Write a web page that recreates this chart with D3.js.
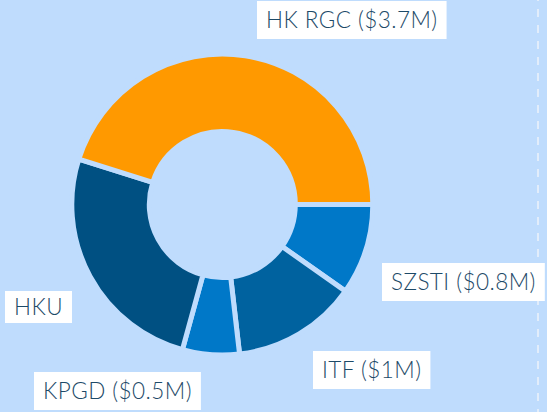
<!DOCTYPE html>
<html>
<head>
<meta charset="utf-8">
<script src="https://cdn.jsdelivr.net/npm/d3@7"></script>
<style>
  html, body { margin: 0; padding: 0; background: #bfdcfd; overflow: hidden; }
</style>
</head>
<body>
<div id="vizcontainer"></div>
<script>
const
  width = 547,
  height = 412,
  bg = '#bfdcfd',
  textColor = '#1d4a68'
  ;

// slices, clockwise from 3 o'clock
const funders = ['SZSTI', 'ITF', 'KPGD', 'HKU', 'HK RGC'];
const amounts = [0.8, 1.1, 0.5, 2.1, 3.7]; // $M
const labels = ['SZSTI ($0.8M)', 'ITF ($1M)', 'KPGD ($0.5M)', 'HKU', 'HK RGC ($3.7M)'];
const colors = ['#0078c8', '#00629f', '#0078c8', '#005082', '#ff9900'];

// where each label's text starts (left, baseline)
const labelAt = {
  'SZSTI': [391, 290],
  'ITF': [322, 378],
  'KPGD': [43, 399],
  'HKU': [14, 315],
  'HK RGC': [266, 28]
};

const data = funders.map((f, i) => ({ name: f, value: amounts[i], label: labels[i], color: colors[i] }));

let svg = d3.select('#vizcontainer')
  .append('svg')
  .attr('width', width)
  .attr('height', height);

svg.append('rect')
  .attr('width', width)
  .attr('height', height)
  .attr('fill', bg);

// dashed divider on the right
svg.append('line')
  .attr('x1', 538).attr('x2', 538)
  .attr('y1', 0).attr('y2', height)
  .attr('stroke', '#e2edfb')
  .attr('stroke-width', 2)
  .attr('stroke-dasharray', '8,8')
  .attr('stroke-dashoffset', 7);

const pie = d3.pie()
  .sort(null)
  .value(d => d.value)
  .startAngle(Math.PI / 2)
  .endAngle(Math.PI / 2 + 2 * Math.PI);

const arc = d3.arc()
  .innerRadius(73)
  .outerRadius(150.5);

const donut = svg.append('g')
  .attr('transform', 'translate(222.3,204.5)');

donut.selectAll('path')
  .data(pie(data))
  .join('path')
  .attr('d', arc)
  .attr('fill', d => d.data.color)
  .attr('stroke', bg)
  .attr('stroke-width', 5)
  .attr('stroke-linejoin', 'miter');

// labels in white boxes
const lab = svg.append('g')
  .selectAll('g')
  .data(data)
  .join('g');

lab.each(function (d) {
  const g = d3.select(this);
  const [x, y] = labelAt[d.name];
  const small = d.name == 'HKU'; // this one sits in a shorter box
  const box = g.append('rect').attr('fill', 'white');
  const t = g.append('text')
    .attr('x', x)
    .attr('y', y)
    .attr('fill', textColor)
    .attr('font-family', 'Lato, sans-serif')
    .attr('font-weight', 300)
    .attr('font-size', '22.5px')
    .attr('letter-spacing', '0.45px')
    .text(d.label);
  const w = t.node().getComputedTextLength();
  box.attr('x', x - 9)
    .attr('y', y - (small ? 24 : 27))
    .attr('width', w + 18)
    .attr('height', small ? 32 : 38);
});
</script>
</body>
</html>
